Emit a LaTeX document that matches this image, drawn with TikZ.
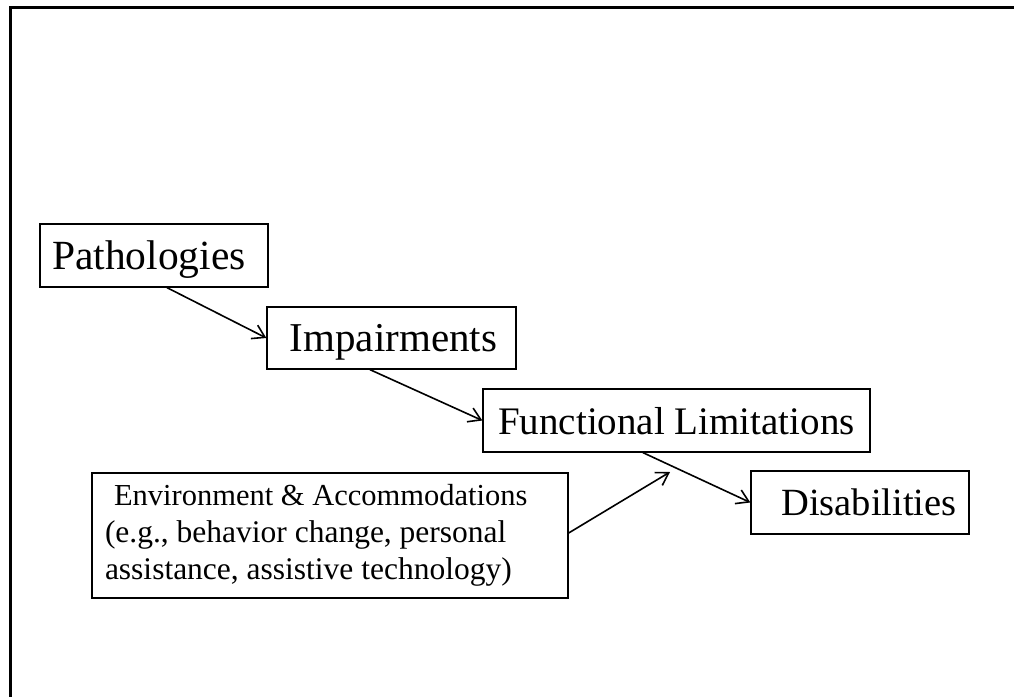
\documentclass[tikz,border=0pt]{standalone}
\usepackage{fontspec}
\setmainfont{Liberation Serif}
\usetikzlibrary{arrows.meta}
\begin{document}
\begin{tikzpicture}[x=1pt,y=-1pt,
  stage/.style={draw=black,line width=1.3pt,inner sep=0pt,text depth=0pt},
  conn/.style={line width=1.6pt,-{Straight Barb[length=12pt,width=15pt,line width=1.6pt]}}]
\useasboundingbox (0,0) rectangle (1014,696);
% outer frame (right and bottom edges lie outside the picture)
\draw[line width=3pt] (10,700) -- (10,7.5) -- (1020,7.5);
\node[stage,minimum width=228pt,minimum height=63pt,font=\fontsize{41.5}{48}\selectfont] (path) at (154,255.5) {Pathologies\hspace*{10pt}};
\node[stage,minimum width=249pt,minimum height=62pt,font=\fontsize{41}{48}\selectfont] (imp) at (391.5,338) {\hspace*{4pt}Impairments};
\node[stage,minimum width=387pt,minimum height=63pt,font=\fontsize{39}{46}\selectfont] (fl) at (676.5,420.5) {Functional Limitations};
\node[stage,minimum width=218pt,minimum height=63pt,font=\fontsize{38.5}{46}\selectfont] (dis) at (860,502.5) {\hspace*{18pt}Disabilities};
\node[draw=black,line width=1.3pt,minimum width=476pt,minimum height=125pt,inner xsep=13pt,inner ysep=0pt,
  text width=450pt,align=left,font=\fontsize{31.5}{37}\selectfont] (env) at (330,535.5)
  {\spaceskip=0pt\xspaceskip=0pt\relax
   {\fontsize{30.5}{37}\selectfont\hspace*{9pt}Environment \& Accommodations}\\
   (e.g., behavior change, personal\\
   assistance, assistive technology)};
\coordinate (tip) at (670,472);
\draw[conn] (path.south -| 167,0) -- (imp.west);
\draw[conn] (imp.south -| 370,0) -- (fl.west);
\draw[conn] (fl.south -| 643,0) -- (dis.west);
\draw[conn] (env.east |- 0,533) -- (tip);
\end{tikzpicture}
\end{document}
